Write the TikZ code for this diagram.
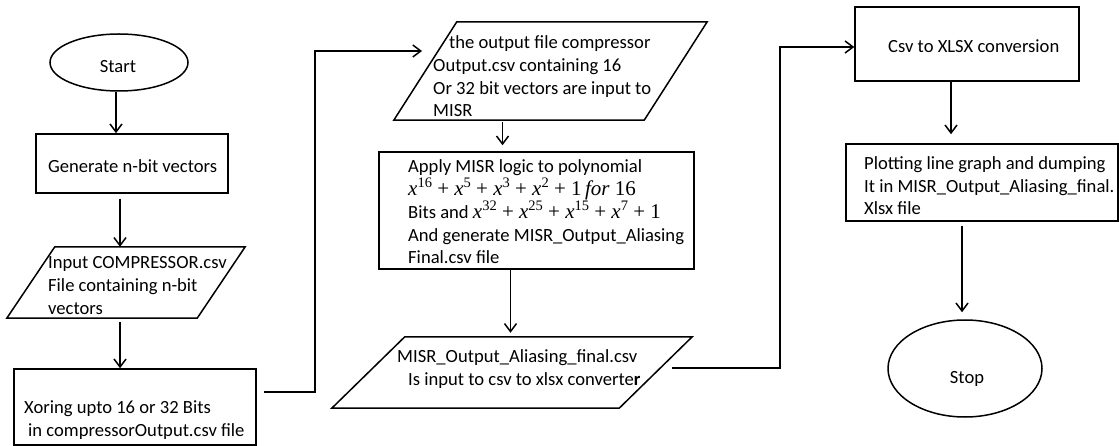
\documentclass[tikz,border=0pt]{standalone}
\usepackage{fontspec}
\setmainfont{Carlito}
\newfontfamily\formulafont{Liberation Serif}
\usetikzlibrary{shapes.geometric,arrows.meta}

\tikzset{
  flow/.style={draw=black, line width=1.5pt, inner sep=0pt},
  boxnode/.style={flow, rectangle},
  oval/.style={flow, ellipse},
  frame/.style={rectangle, inner sep=0pt},
  txt/.style={anchor=base west, inner sep=0pt, font=\fontsize{18.6}{22.8}\selectfont},
  ctxt/.style={txt, anchor=base},
  arr/.style={line width=1.5pt, -{Straight Barb[length=8pt,width=12pt,line width=1.5pt]}},
  edge/.style={line width=1.5pt, line join=miter}
}

% parallelogram drawn inside a named frame node; #1 = slant, #2 = node name
\newcommand{\slantbox}[2]{%
  \draw[edge] ([xshift=#1]#2.north west) -- (#2.north east)
    -- ([xshift=-#1]#2.south east) -- (#2.south west) -- cycle;}

% polynomial terms set in a serif face
\newcommand{\fx}[1]{{\formulafont\fontsize{21}{22.8}\selectfont\textit{x}\raisebox{8pt}{\fontsize{14.5}{15}\selectfont #1}}}
\newcommand{\fplus}{{\formulafont\fontsize{21}{22.8}\selectfont\ +\ }}
\newcommand{\fnum}[1]{{\formulafont\fontsize{21}{22.8}\selectfont #1}}

\begin{document}
\begin{tikzpicture}[x=1pt, y=-1pt]
\useasboundingbox (0,0) rectangle (1119,446);

% ---- shapes ----
\node[oval, minimum width=138pt, minimum height=57pt] (start) at (119,62.5) {};
\node[boxnode, minimum width=192pt, minimum height=59pt] (gen) at (132,163.5) {};
\node[frame, minimum width=238pt, minimum height=71pt] (in1) at (126,282.5) {};
\slantbox{48pt}{in1}
\node[boxnode, minimum width=242pt, minimum height=76pt] (xor) at (135,407) {};

\node[frame, minimum width=313pt, minimum height=98pt] (p2) at (550.5,71) {};
\slantbox{63pt}{p2}
\node[boxnode, minimum width=315pt, minimum height=117pt] (misr) at (536.5,210.5) {};
\node[frame, minimum width=360pt, minimum height=71pt] (p3) at (512,372.5) {};
\slantbox{73pt}{p3}

\node[boxnode, minimum width=224pt, minimum height=74pt] (csv) at (967,44) {};
\node[boxnode, minimum width=272pt, minimum height=77pt] (plot) at (982,182.5) {};
\node[oval, minimum width=154pt, minimum height=97pt] (stop) at (965,368.5) {};

% ---- texts ----
\node[ctxt] (tstart) at (118,73) {Start};
\node[txt] (tgen) at (48,173) {Generate n-bit vectors};

\node[txt] (tin1) at (48,269) {Input COMPRESSOR.csv};
\node[txt] (tin2) at (48,292) {File containing n-bit};
\node[txt] (tin3) at (48,315) {vectors};

\node[txt] (txor1) at (24,413) {Xoring upto 16 or 32 Bits};
\node[txt] (txor2) at (28,436) {in compressorOutput.csv file};

\node[txt] (tp21) at (449,49) {the output file compressor};
\node[txt] (tp22) at (433,72) {Output.csv containing 16};
\node[txt] (tp23) at (433,95) {Or 32 bit vectors are input to};
\node[txt] (tp24) at (433,117) {MISR};

\node[txt] (tm1) at (408,173) {Apply MISR logic to polynomial};
\node[txt] (tm2) at (408,196) {\fx{16}\fplus\fx{5}\fplus\fx{3}\fplus\fx{2}\fplus\fnum{1\,\textit{for}~16}};
\node[txt] (tm3) at (408,219) {Bits and \fx{32}\fplus\fx{25}\fplus\fx{15}\fplus\fx{7}\fplus\fnum{1}};
\node[txt] (tm4) at (408,242) {And generate MISR\_Output\_Aliasing};
\node[txt] (tm5) at (408,264) {Final.csv file};

\node[txt] (tp31) at (397,362) {MISR\_Output\_Aliasing\_final.csv};
\node[txt] (tp32) at (408,385) {Is input to csv to xlsx converte\textbf{r}};

\node[txt] (tcsv) at (888,53) {Csv to XLSX conversion};

\node[txt] (tpl1) at (864,170) {Plotting line graph and dumping};
\node[txt] (tpl2) at (864,193) {It in MISR\_Output\_Aliasing\_final.};
\node[txt] (tpl3) at (864,215) {Xlsx file};

\node[ctxt] (tstop) at (967,383) {Stop};

% ---- connectors ----
\draw[arr] ([xshift=-3pt]start.south) -- ([xshift=-3pt]start.south |- gen.north);
\draw[arr] ([xshift=-12pt,yshift=-5pt]gen.south) -- ([xshift=-12pt]gen.south |- in1.north);
\draw[arr] ([xshift=-6pt,yshift=-4pt]in1.south) -- ([xshift=-6pt]in1.south |- xor.north);

\coordinate (j1) at (315,51);
\coordinate (p2in) at (422,51);
\draw[arr] ([shift={(7pt,15pt)}]xor.east) -| (j1) -- (p2in);

\draw[arr, shorten >=6pt] ([xshift=-48pt,yshift=-2pt]p2.south) -- ([xshift=-48pt]p2.south |- misr.north);
\draw[arr, shorten >=4pt] ([xshift=-26pt]misr.south) -- ([xshift=-26pt]misr.south |- p3.north);

\coordinate (j2) at (780,47);
\draw[arr] ([shift={(160pt,4.5pt)}]p3.center) -| (j2) -- (csv.west |- j2);

\draw[arr, shorten >=9pt] ([xshift=-16pt]csv.south) -- ([xshift=-16pt]csv.south |- plot.north);
\draw[arr, shorten <=4pt, shorten >=7pt] ([xshift=-20pt]plot.south) -- ([xshift=-20pt]plot.south |- stop.north);
\end{tikzpicture}
\end{document}
